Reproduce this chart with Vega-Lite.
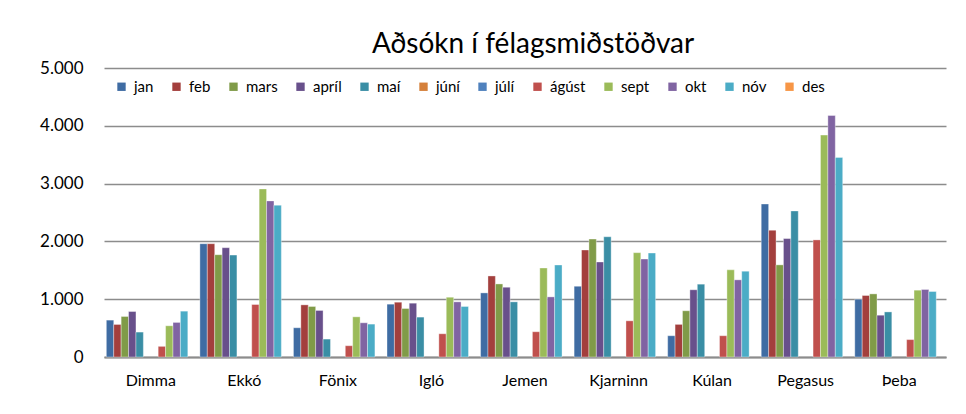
{
  "$schema": "https://vega.github.io/schema/vega-lite/v6.json",
  "autosize": {"type": "none"},
  "width": 842,
  "height": 289,
  "padding": {"left": 104, "top": 68, "right": 20, "bottom": 57},
  "background": "white",
  "config": {
    "locale": {"number": {"decimal": ",", "thousands": ".", "grouping": [3], "currency": ["", " kr."]}},
    "view": {"stroke": null},
    "font": "Lato"
  },
  "title": {
    "text": "Aðsókn í félagsmiðstöðvar",
    "fontSize": 28,
    "fontWeight": "normal",
    "font": "Lato",
    "color": "#000000",
    "anchor": "middle",
    "dx": 8,
    "offset": 0
  },
  "data": {
    "values": [
      {"stod": "Dimma", "manudur": "jan", "gestir": 638},
      {"stod": "Dimma", "manudur": "feb", "gestir": 563},
      {"stod": "Dimma", "manudur": "mars", "gestir": 701},
      {"stod": "Dimma", "manudur": "apríl", "gestir": 787},
      {"stod": "Dimma", "manudur": "maí", "gestir": 431},
      {"stod": "Dimma", "manudur": "ágúst", "gestir": 184},
      {"stod": "Dimma", "manudur": "sept", "gestir": 540},
      {"stod": "Dimma", "manudur": "okt", "gestir": 598},
      {"stod": "Dimma", "manudur": "nóv", "gestir": 793},
      {"stod": "Ekkó", "manudur": "jan", "gestir": 1960},
      {"stod": "Ekkó", "manudur": "feb", "gestir": 1960},
      {"stod": "Ekkó", "manudur": "mars", "gestir": 1770},
      {"stod": "Ekkó", "manudur": "apríl", "gestir": 1891},
      {"stod": "Ekkó", "manudur": "maí", "gestir": 1764},
      {"stod": "Ekkó", "manudur": "ágúst", "gestir": 908},
      {"stod": "Ekkó", "manudur": "sept", "gestir": 2908},
      {"stod": "Ekkó", "manudur": "okt", "gestir": 2701},
      {"stod": "Ekkó", "manudur": "nóv", "gestir": 2626},
      {"stod": "Fönix", "manudur": "jan", "gestir": 506},
      {"stod": "Fönix", "manudur": "feb", "gestir": 902},
      {"stod": "Fönix", "manudur": "mars", "gestir": 874},
      {"stod": "Fönix", "manudur": "apríl", "gestir": 805},
      {"stod": "Fönix", "manudur": "maí", "gestir": 310},
      {"stod": "Fönix", "manudur": "ágúst", "gestir": 195},
      {"stod": "Fönix", "manudur": "sept", "gestir": 695},
      {"stod": "Fönix", "manudur": "okt", "gestir": 592},
      {"stod": "Fönix", "manudur": "nóv", "gestir": 569},
      {"stod": "Igló", "manudur": "jan", "gestir": 914},
      {"stod": "Igló", "manudur": "feb", "gestir": 948},
      {"stod": "Igló", "manudur": "mars", "gestir": 839},
      {"stod": "Igló", "manudur": "apríl", "gestir": 931},
      {"stod": "Igló", "manudur": "maí", "gestir": 690},
      {"stod": "Igló", "manudur": "ágúst", "gestir": 402},
      {"stod": "Igló", "manudur": "sept", "gestir": 1034},
      {"stod": "Igló", "manudur": "okt", "gestir": 954},
      {"stod": "Igló", "manudur": "nóv", "gestir": 874},
      {"stod": "Jemen", "manudur": "jan", "gestir": 1109},
      {"stod": "Jemen", "manudur": "feb", "gestir": 1402},
      {"stod": "Jemen", "manudur": "mars", "gestir": 1264},
      {"stod": "Jemen", "manudur": "apríl", "gestir": 1207},
      {"stod": "Jemen", "manudur": "maí", "gestir": 954},
      {"stod": "Jemen", "manudur": "ágúst", "gestir": 437},
      {"stod": "Jemen", "manudur": "sept", "gestir": 1540},
      {"stod": "Jemen", "manudur": "okt", "gestir": 1040},
      {"stod": "Jemen", "manudur": "nóv", "gestir": 1592},
      {"stod": "Kjarninn", "manudur": "jan", "gestir": 1224},
      {"stod": "Kjarninn", "manudur": "feb", "gestir": 1851},
      {"stod": "Kjarninn", "manudur": "mars", "gestir": 2040},
      {"stod": "Kjarninn", "manudur": "apríl", "gestir": 1644},
      {"stod": "Kjarninn", "manudur": "maí", "gestir": 2080},
      {"stod": "Kjarninn", "manudur": "ágúst", "gestir": 626},
      {"stod": "Kjarninn", "manudur": "sept", "gestir": 1805},
      {"stod": "Kjarninn", "manudur": "okt", "gestir": 1695},
      {"stod": "Kjarninn", "manudur": "nóv", "gestir": 1799},
      {"stod": "Kúlan", "manudur": "jan", "gestir": 368},
      {"stod": "Kúlan", "manudur": "feb", "gestir": 564},
      {"stod": "Kúlan", "manudur": "mars", "gestir": 800},
      {"stod": "Kúlan", "manudur": "apríl", "gestir": 1163},
      {"stod": "Kúlan", "manudur": "maí", "gestir": 1260},
      {"stod": "Kúlan", "manudur": "ágúst", "gestir": 368},
      {"stod": "Kúlan", "manudur": "sept", "gestir": 1508},
      {"stod": "Kúlan", "manudur": "okt", "gestir": 1335},
      {"stod": "Kúlan", "manudur": "nóv", "gestir": 1485},
      {"stod": "Pegasus", "manudur": "jan", "gestir": 2647},
      {"stod": "Pegasus", "manudur": "feb", "gestir": 2193},
      {"stod": "Pegasus", "manudur": "mars", "gestir": 1594},
      {"stod": "Pegasus", "manudur": "apríl", "gestir": 2049},
      {"stod": "Pegasus", "manudur": "maí", "gestir": 2527},
      {"stod": "Pegasus", "manudur": "ágúst", "gestir": 2026},
      {"stod": "Pegasus", "manudur": "sept", "gestir": 3839},
      {"stod": "Pegasus", "manudur": "okt", "gestir": 4178},
      {"stod": "Pegasus", "manudur": "nóv", "gestir": 3453},
      {"stod": "Þeba", "manudur": "jan", "gestir": 1000},
      {"stod": "Þeba", "manudur": "feb", "gestir": 1064},
      {"stod": "Þeba", "manudur": "mars", "gestir": 1092},
      {"stod": "Þeba", "manudur": "apríl", "gestir": 723},
      {"stod": "Þeba", "manudur": "maí", "gestir": 780},
      {"stod": "Þeba", "manudur": "ágúst", "gestir": 301},
      {"stod": "Þeba", "manudur": "sept", "gestir": 1156},
      {"stod": "Þeba", "manudur": "okt", "gestir": 1168},
      {"stod": "Þeba", "manudur": "nóv", "gestir": 1133}
    ]
  },
  "mark": {"type": "bar", "stroke": "#ffffff", "strokeOpacity": 0.6, "strokeWidth": 0.6},
  "encoding": {
    "x": {
      "field": "stod",
      "type": "nominal",
      "sort": ["Dimma", "Ekkó", "Fönix", "Igló", "Jemen", "Kjarninn", "Kúlan", "Pegasus", "Þeba"],
      "scale": {"paddingInner": 0.05, "paddingOuter": 0.025},
      "axis": {
        "title": null,
        "labelAngle": 0,
        "labelFontSize": 16,
        "labelFontWeight": "normal",
        "labelColor": "#000000",
        "labelPadding": 15,
        "ticks": false,
        "domainColor": "#8c8c8c",
        "domainWidth": 2
      }
    },
    "xOffset": {
      "field": "manudur",
      "type": "nominal",
      "scale": {
        "domain": ["jan", "feb", "mars", "apríl", "maí", "júní", "júlí", "ágúst", "sept", "okt", "nóv", "des"],
        "paddingInner": 0,
        "paddingOuter": 0
      }
    },
    "y": {
      "field": "gestir",
      "type": "quantitative",
      "scale": {"domain": [0, 5000], "nice": false},
      "axis": {
        "title": null,
        "values": [0, 1000, 2000, 3000, 4000, 5000],
        "format": ",d",
        "labelFontSize": 17,
        "labelFontWeight": "normal",
        "labelColor": "#000000",
        "labelPadding": 21,
        "ticks": false,
        "domain": false,
        "gridColor": "#8c8c8c",
        "gridWidth": 1.5
      }
    },
    "color": {
      "field": "manudur",
      "type": "nominal",
      "scale": {
        "domain": ["jan", "feb", "mars", "apríl", "maí", "júní", "júlí", "ágúst", "sept", "okt", "nóv", "des"],
        "range": ["#3F6CA3", "#A33F3D", "#809B48", "#68508B", "#3A8EA5", "#D5803A", "#4F81BD", "#C0504D", "#9BBB59", "#8064A2", "#4BACC6", "#F79646"]
      },
      "legend": {
        "title": null,
        "orient": "none",
        "legendX": 10,
        "legendY": 11,
        "direction": "horizontal",
        "columns": 12,
        "columnPadding": 15,
        "symbolType": "square",
        "symbolSize": 70,
        "symbolStrokeWidth": 0,
        "labelFontSize": 15,
        "labelFontWeight": "normal",
        "labelColor": "#000000",
        "labelOffset": 5
      }
    }
  }
}
